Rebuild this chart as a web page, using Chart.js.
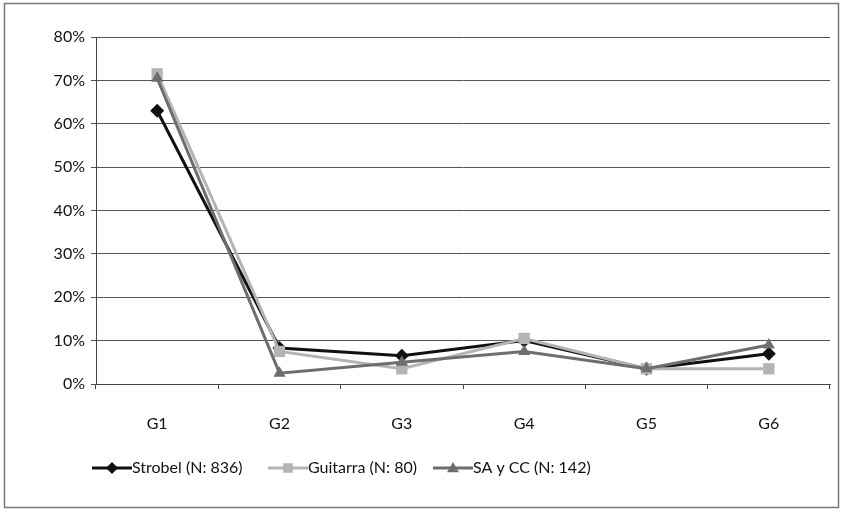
<!DOCTYPE html>
<html>
<head>
<meta charset="utf-8">
<script src="https://cdn.jsdelivr.net/npm/chart.js@4/dist/chart.umd.min.js"></script>
<style>
  html, body { margin: 0; padding: 0; background: #fff; }
  #wrap { width: 843px; height: 512px; }
</style>
</head>
<body>
<div id="wrap"><canvas id="lineChart" width="843" height="512"></canvas></div>
<script>
// data
var groups = ["G1", "G2", "G3", "G4", "G5", "G6"];
var strobel = [63, 8.3, 6.5, 10, 3.5, 7];
var guitarra = [71.5, 7.5, 3.5, 10.5, 3.5, 3.5];
var sacc = [70.5, 2.5, 5, 7.5, 3.5, 9];
var seriesNames = ["Strobel (N: 836)", "Guitarra (N: 80)", "SA y CC (N: 142)"];
var seriesColors = ["#111111", "#b4b4b4", "#6e6e6e"];
var seriesMarkers = ["rectRot", "rect", "triangle"];

var FONT = "Lato, 'Liberation Sans', sans-serif";

function marker(ctx, style, x, y, r, color) {
  ctx.save();
  ctx.fillStyle = color;
  ctx.beginPath();
  if (style === "rectRot") {
    ctx.moveTo(x, y - r); ctx.lineTo(x + r, y); ctx.lineTo(x, y + r); ctx.lineTo(x - r, y);
  } else if (style === "rect") {
    ctx.rect(x - r * 0.8, y - r * 0.8, r * 1.6, r * 1.6);
  } else {
    ctx.moveTo(x, y - r); ctx.lineTo(x + r, y + r * 0.7); ctx.lineTo(x - r, y + r * 0.7);
  }
  ctx.closePath();
  ctx.fill();
  ctx.restore();
}

// frame + bottom legend in the Excel style (line with marker)
var excelBits = {
  id: "excelBits",
  afterDraw: function (chart) {
    var ctx = chart.ctx;
    ctx.save();
    ctx.strokeStyle = "#777";
    ctx.lineWidth = 1.5;
    ctx.strokeRect(4.5, 3.5, 834, 504);
    var starts = [92, 268, 433];
    var y = 468;
    ctx.font = "16px " + FONT;
    ctx.textBaseline = "middle";
    for (var i = 0; i < seriesNames.length; i++) {
      var x0 = starts[i];
      ctx.strokeStyle = seriesColors[i];
      ctx.lineWidth = 3;
      ctx.beginPath();
      ctx.moveTo(x0, y);
      ctx.lineTo(x0 + 40, y);
      ctx.stroke();
      marker(ctx, seriesMarkers[i], x0 + 20, y, 6, seriesColors[i]);
      ctx.fillStyle = "#111";
      ctx.fillText(seriesNames[i], x0 + 40, y);
    }
    ctx.restore();
  }
};

function ds(label, data, color, style) {
  return {
    label: label,
    data: data,
    borderColor: color,
    backgroundColor: color,
    borderWidth: 3,
    pointStyle: style,
    pointRadius: style === "rect" ? 8 : 7,
    pointBorderWidth: 0,
    tension: 0
  };
}

var ctxL = document.getElementById("lineChart").getContext("2d");
var myLineChart = new Chart(ctxL, {
  type: "line",
  data: {
    labels: groups,
    datasets: [
      ds(seriesNames[2], sacc, seriesColors[2], seriesMarkers[2]),
      ds(seriesNames[1], guitarra, seriesColors[1], seriesMarkers[1]),
      ds(seriesNames[0], strobel, seriesColors[0], seriesMarkers[0])
    ]
  },
  options: {
    responsive: false,
    animation: false,
    layout: { padding: { left: 0, right: 13, top: 37, bottom: 0 } },
    plugins: { legend: { display: false }, tooltip: { enabled: false } },
    scales: {
      x: {
        offset: true,
        afterFit: function (s) { s.height = 128; },
        grid: { offset: true, drawOnChartArea: false, drawTicks: true, tickLength: 5, color: "#444" },
        border: { color: "#444", width: 1 },
        ticks: { padding: 25, color: "#111", font: { family: FONT, size: 16 } }
      },
      y: {
        min: 0,
        max: 80,
        afterFit: function (s) { s.width = 96; },
        grid: { color: "#555", lineWidth: 1, tickLength: 5 },
        border: { color: "#444", width: 1 },
        ticks: {
          stepSize: 10,
          padding: 6,
          color: "#111",
          font: { family: FONT, size: 16 },
          callback: function (v) { return v + "%"; }
        }
      }
    }
  },
  plugins: [excelBits]
});
</script>
</body>
</html>
